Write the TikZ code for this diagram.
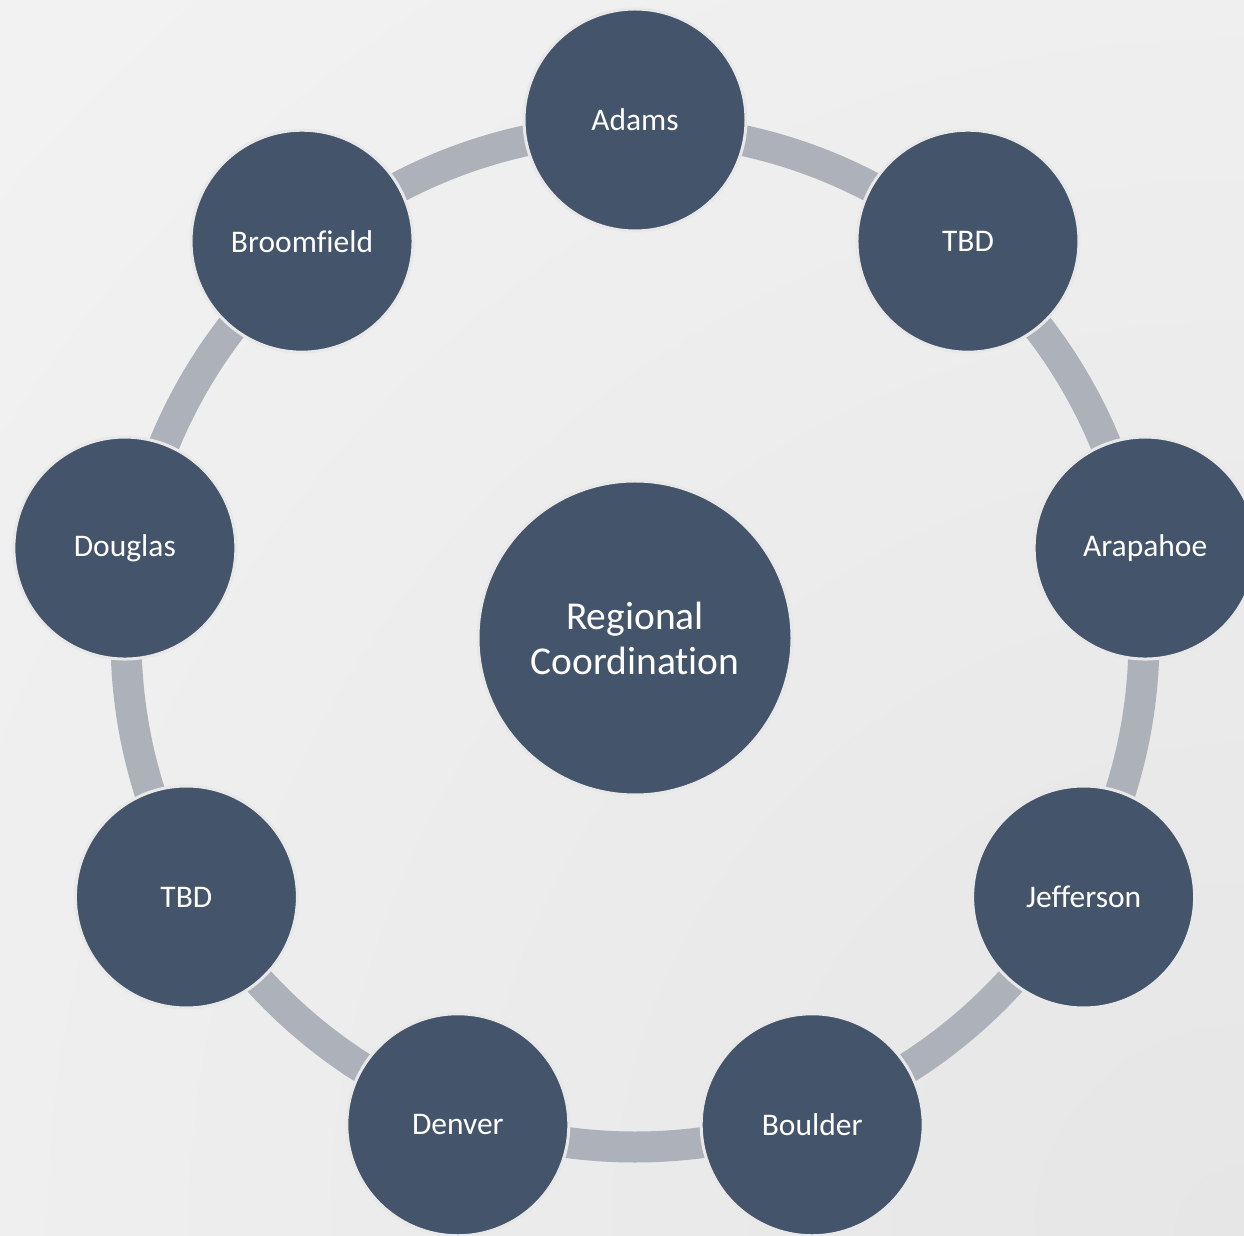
\documentclass[tikz,border=0pt]{standalone}
\usepackage{fontspec}
\setmainfont{Carlito}[Ligatures={NoCommon}]
\definecolor{nodefill}{HTML}{44546A}
\definecolor{ringgray}{HTML}{ADB1B9}
\definecolor{nodeborder}{HTML}{E8E8E8}
\definecolor{bgdark}{HTML}{E6E6E6}
\pgfdeclareradialshading{bgshade}{\pgfpoint{0bp}{0bp}}{color(0bp)=(bgdark); color(50bp)=(white)}
\tikzset{
  outer/.style={circle, fill=nodefill, draw=nodeborder, line width=3pt, minimum size=222pt, inner sep=0pt, text=white, font=\fontsize{31.5pt}{38pt}\selectfont},
  hub/.style={circle, fill=nodefill, draw=nodeborder, line width=3pt, minimum size=314pt, inner sep=0pt, text=white, align=center, font=\fontsize{39.5pt}{45pt}\selectfont},
  ring/.style={draw=ringgray, line width=31pt}
}
\begin{document}
\begin{tikzpicture}[x=1pt,y=1pt]
\useasboundingbox (0,0) rectangle (1244,1235);
\begin{scope}
\clip (0,0) rectangle (1244,1235);
\shade[shading=bgshade] (1244,0) circle (1760);
\coordinate (O) at (635,597);
\draw[ring] (O) circle (509);
\node[hub] (center) at (O) {Regional\\Coordination};
\node[outer] (adams) at ([shift={(90:518)}]O) {Adams};
\node[outer] (tbdA) at ([shift={(50:518)}]O) {TBD};
\node[outer] (arapahoe) at ([shift={(10:518)}]O) {Arapahoe};
\node[outer] (jefferson) at ([shift={(-30:518)}]O) {Jefferson};
\node[outer] (boulder) at ([shift={(-70:518)}]O) {Boulder};
\node[outer] (denver) at ([shift={(-110:518)}]O) {Denver};
\node[outer] (tbdB) at ([shift={(-150:518)}]O) {TBD};
\node[outer] (douglas) at ([shift={(170:518)}]O) {Douglas};
\node[outer] (broomfield) at ([shift={(130:518)}]O) {Broomfield};
\end{scope}
\end{tikzpicture}
\end{document}
